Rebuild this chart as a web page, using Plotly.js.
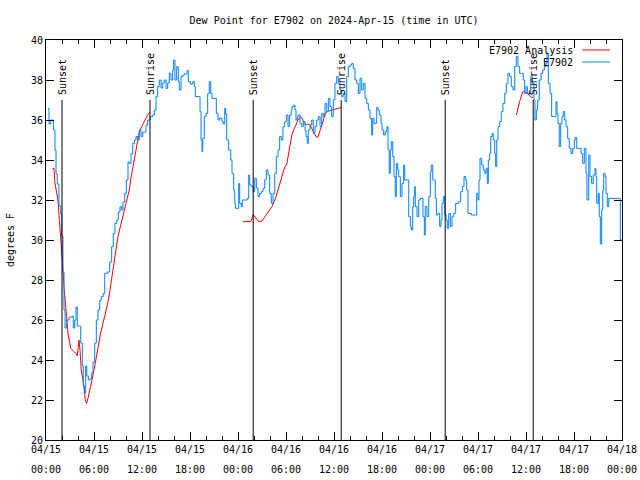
<!DOCTYPE html>
<html>
<head>
<meta charset="utf-8">
<script src="https://cdn.plot.ly/plotly-3.0.1.min.js"></script>
<style>html,body{margin:0;padding:0;background:#fff;}#chart{width:640px;height:480px;}</style>
</head>
<body>
<div id="chart"></div>
<script>
// Hours since 2024-04-15 00:00 UTC
var stationHours = [0.25,0.38,0.59,0.91,0.92,1.12,1.25,1.41,1.62,1.84,1.96,2.12,2.25,2.38,2.59,2.88,3.29,3.41,3.59,3.75,3.91,4.16,4.34,4.54,4.66,4.79,4.96,5.09,5.29,5.5,5.71,5.88,6.09,6.29,6.5,6.71,6.91,7.16,7.34,7.66,7.96,8.21,8.41,8.62,8.84,9.04,9.25,9.46,9.62,9.84,10.04,10.25,10.41,10.62,10.84,11.06,11.25,11.46,11.66,11.88,12.09,12.29,12.5,12.71,13.0,13.34,13.54,13.75,13.96,14.16,14.38,14.59,14.79,15.0,15.21,15.41,15.62,15.84,15.96,16.12,16.34,16.54,16.66,16.88,17.09,17.29,17.62,17.79,18.04,18.34,18.54,18.66,19.16,19.25,19.38,19.5,19.59,19.79,20.0,20.21,20.41,20.59,20.75,21.16,21.29,21.5,21.71,22.0,22.16,22.34,22.46,22.59,22.84,23.09,23.25,23.46,23.59,23.71,23.91,24.09,24.21,24.41,24.54,24.88,25.16,25.34,25.46,25.66,25.88,26.09,26.29,26.5,26.71,26.91,27.12,27.34,27.54,27.75,27.96,28.16,28.38,28.59,28.79,29.0,29.21,29.41,29.62,29.84,30.04,30.25,30.46,30.66,30.75,31.0,31.12,31.25,31.41,31.54,31.75,31.96,32.16,32.38,32.5,32.66,32.79,33.0,33.21,33.41,33.62,33.84,34.04,34.25,34.46,34.66,34.88,35.09,35.29,35.5,35.71,35.91,36.12,36.34,36.54,36.75,36.96,37.16,37.38,37.59,37.79,38.0,38.21,38.41,38.62,38.84,39.04,39.25,39.46,39.66,39.88,40.09,40.29,40.5,40.71,40.84,41.0,41.34,41.5,41.66,41.88,42.0,42.21,42.41,42.62,42.75,42.91,43.04,43.16,43.34,43.5,43.66,43.79,43.96,44.09,44.29,44.5,44.71,44.84,45.12,45.34,45.54,45.66,45.84,45.96,46.09,46.16,46.38,46.59,46.79,47.0,47.12,47.29,47.41,47.62,47.84,48.04,48.16,48.34,48.54,48.66,48.79,49.0,49.21,49.38,49.5,49.66,49.84,50.0,50.16,50.34,50.54,50.75,50.96,51.21,51.59,51.84,52.04,52.25,52.46,52.59,52.75,53.16,53.71,53.84,54.0,54.12,54.25,54.46,54.66,54.84,55.0,55.16,55.29,55.46,55.59,55.79,55.91,56.09,56.21,56.34,56.5,56.71,56.91,57.12,57.34,57.54,57.75,57.96,58.16,58.38,58.59,58.79,59.0,59.21,59.46,59.66,59.84,60.0,60.16,60.38,60.59,60.79,61.0,61.12,61.29,61.46,61.66,61.88,62.09,62.29,62.5,62.62,62.79,63.0,63.21,63.54,63.75,63.88,64.0,64.16,64.34,64.5,64.66,64.84,65.0,65.21,65.41,65.62,65.84,66.04,66.16,66.34,66.66,66.88,67.09,67.29,67.5,67.62,67.84,68.0,68.21,68.41,68.62,68.75,68.84,69.04,69.16,69.29,69.46,69.59,69.71,69.88,70.0,70.16,70.34,70.88,71.46,71.66,71.79,72.0];
var stationDew = [36.58,35.8,36.0,36.0,35.5,34.5,33.3,32.8,31.7,31.3,30.2,28.4,26.5,25.6,26.0,26.15,26.2,25.6,26.0,26.65,25.7,25.7,24.85,23.7,22.7,22.35,23.7,23.2,23.0,23.05,23.35,23.9,24.85,26.0,26.5,26.97,27.17,27.33,28.33,28.4,28.9,29.67,30.33,30.83,31.0,31.4,31.67,31.5,31.9,32.33,33.0,33.9,33.83,34.3,34.83,35.0,35.17,35.0,35.5,35.17,35.4,35.4,35.75,36.0,36.17,36.25,36.5,37.17,37.67,38.0,37.6,37.85,38.0,37.58,37.85,38.33,38.0,38.5,39.0,38.0,38.67,37.92,37.5,38.17,38.25,38.3,38.47,37.92,37.8,37.92,37.67,37.17,37.17,36.42,35.0,34.42,35.08,36.17,36.33,37.33,37.92,37.33,37.08,37.08,36.33,36.0,36.1,35.92,35.8,36.58,36.3,35.0,34.5,34.0,33.33,32.5,31.83,31.58,31.58,32.83,31.83,31.67,32.0,32.0,32.08,33.25,32.75,32.67,32.42,33.08,32.6,32.17,32.33,32.42,32.58,33.0,33.5,33.25,32.33,31.83,32.33,33.33,34.17,34.5,35.17,35.0,35.67,35.92,36.25,35.67,36.25,36.5,36.67,36.75,36.5,36.0,36.17,36.25,35.83,35.67,35.92,35.5,35.17,34.83,35.5,35.75,36.0,35.33,35.67,36.0,36.17,35.67,36.33,36.17,36.83,36.42,37.08,36.67,36.17,37.0,37.83,38.17,37.83,37.5,37.17,37.33,36.92,38.17,38.67,38.75,38.83,38.58,38.0,37.83,37.33,38.08,37.5,37.83,37.08,36.83,36.5,36.08,35.25,36.08,35.83,36.63,36.5,36.25,35.83,35.5,35.25,35.42,35.67,34.5,33.33,34.5,34.92,34.17,33.17,32.17,33.83,33.5,33.17,32.17,32.83,33.75,33.0,33.0,31.17,30.67,30.5,31.67,32.17,32.67,31.67,31.17,32.0,32.08,32.08,31.17,30.25,31.67,31.17,32.17,33.42,33.75,33.0,33.0,32.08,31.25,31.33,30.67,31.0,31.83,32.17,31.25,31.0,30.58,31.33,30.67,31.17,31.33,31.83,31.92,32.42,32.67,33.17,33.0,32.5,31.33,31.25,31.25,32.33,32.0,33.0,34.08,33.75,33.5,33.33,33.58,32.83,34.0,34.33,35.17,35.33,35.0,34.33,33.67,35.0,35.67,35.92,36.42,36.83,37.33,37.83,38.33,38.17,37.67,37.5,38.67,39.17,38.67,38.33,38.33,38.0,37.33,37.67,37.33,37.33,38.17,37.83,37.0,36.0,36.5,37.0,38.0,38.33,38.5,38.67,38.83,39.33,37.83,37.33,36.17,36.17,36.92,36.33,35.83,34.67,35.83,36.17,36.42,36.0,35.67,35.08,34.58,34.33,34.58,35.0,35.13,34.58,34.58,34.33,33.83,34.58,33.33,32.0,34.25,33.17,32.83,33.25,33.58,33.17,31.83,32.33,31.17,29.8,31.5,32.5,33.33,33.17,32.33,31.67,32.08,32.08,32.08,32.08,30.0,30.0];

var analysisHours = [0.79,1.0,1.12,1.34,1.5,1.67,1.84,2.04,2.25,2.38,2.54,2.75,3.09,3.5,3.79,3.91,4.12,4.25,4.41,4.62,4.75,4.91,5.09,5.25,5.5,5.75,6.0,6.25,6.5,6.75,7.0,7.25,7.5,7.75,8.0,8.25,8.5,8.75,9.0,9.25,9.5,9.75,10.0,10.25,10.41,10.62,10.84,11.0,11.25,11.46,11.66,11.88,12.09,12.29,12.5,12.71,12.91,13.0,null,24.6,24.9,25.6,25.9,26.2,26.6,27.0,27.4,27.9,28.3,28.7,29.0,29.3,29.6,29.8,30.1,30.3,30.5,30.7,30.9,31.1,31.3,31.5,31.8,32.0,32.2,32.5,32.7,33.0,33.2,33.4,33.6,33.8,34.0,34.3,34.6,34.9,35.3,35.7,36.1,36.5,36.9,null,58.8,59.2,59.6,60.0,60.25,60.66,60.9];
var analysisDew = [33.58,33.58,32.83,32.4,32.0,31.0,29.83,29.0,27.67,27.08,26.33,25.33,24.58,24.42,24.3,24.2,25.0,24.5,23.5,23.0,22.67,22.0,21.83,22.1,22.5,23.0,23.5,24.0,24.6,25.2,25.6,26.1,26.5,26.9,27.5,28.2,28.9,29.6,30.2,30.6,31.0,31.4,31.8,32.2,32.5,33.1,33.6,34.1,34.6,35.0,35.4,35.6,35.8,35.95,36.1,36.25,36.35,36.4,null,30.92,30.92,30.92,31.27,31.1,30.92,30.95,31.2,31.45,31.7,32.1,32.5,32.9,33.35,33.6,33.8,34.3,34.75,35.2,35.45,35.6,35.8,36.0,36.17,36.1,35.9,35.75,35.8,35.75,35.58,35.4,35.25,35.13,35.15,35.5,35.9,36.35,36.45,36.5,36.55,36.6,36.62,null,36.25,36.92,37.42,37.35,37.3,37.13,37.13];

var eventHours = [2.0, 13.0, 25.9, 36.9, 49.9, 60.9];
var eventLabels = ["Sunset","Sunrise","Sunset","Sunrise","Sunset","Sunrise"];

var tickHours = [0,6,12,18,24,30,36,42,48,54,60,66,72];
var tickDates = ["04/15","04/15","04/15","04/15","04/16","04/16","04/16","04/16","04/17","04/17","04/17","04/17","04/18"];
var tickTimes = ["00:00","06:00","12:00","18:00","00:00","06:00","12:00","18:00","00:00","06:00","12:00","18:00","00:00"];

var seriesNames = ["E7902 Analysis", "E7902"];
var seriesColors = ["#ff0000", "#0080ff"];

var FONT = {family: "DejaVu Sans Mono, monospace", size: 10, color: "#000"};

var traces = [
  {x: analysisHours, y: analysisDew, type: "scatter", mode: "lines", name: seriesNames[0],
   line: {color: seriesColors[0], width: 1}, connectgaps: false, hoverinfo: "x+y"},
  {x: stationHours, y: stationDew, type: "scatter", mode: "lines", name: seriesNames[1],
   line: {color: seriesColors[1], width: 1, shape: "hv"}, hoverinfo: "x+y"}
];

var shapes = [];
var annotations = [];
for (var i = 0; i < eventHours.length; i++) {
  shapes.push({type: "line", xref: "x", yref: "y", x0: eventHours[i], x1: eventHours[i], y0: 20, y1: 37,
               line: {color: "#000", width: 1}});
  annotations.push({xref: "x", yref: "y", x: eventHours[i], y: 37.15, text: eventLabels[i],
                    textangle: -90, showarrow: false, xanchor: "center", yanchor: "bottom",
                    font: FONT});
}
// second line of the time-axis labels
for (var t = 0; t < tickHours.length; t++) {
  annotations.push({xref: "x", yref: "paper", x: tickHours[t], y: 0, yshift: -29, text: tickTimes[t],
                    showarrow: false, xanchor: "center", yanchor: "middle", font: FONT});
}
// legend (gnuplot style: text right-aligned, sample line to the right)
var legendY = [0.975, 0.945];
for (var k = 0; k < seriesNames.length; k++) {
  annotations.push({xref: "paper", yref: "paper", x: 0.918, y: legendY[k], text: seriesNames[k],
                    showarrow: false, xanchor: "right", yanchor: "middle", font: FONT});
  shapes.push({type: "line", xref: "paper", yref: "paper", x0: 0.931, x1: 0.979, y0: legendY[k], y1: legendY[k],
               line: {color: seriesColors[k], width: 1}});
}

var layout = {
  width: 640, height: 480,
  margin: {l: 46, r: 18, t: 40, b: 40},
  paper_bgcolor: "#fff", plot_bgcolor: "#fff",
  font: FONT,
  showlegend: false,
  title: {text: "Dew Point for E7902 on 2024-Apr-15 (time in UTC)", font: FONT, x: 0.522, xanchor: "center", y: 0.958, yanchor: "middle"},
  xaxis: {range: [0, 72], tickmode: "array", tickvals: tickHours, ticktext: tickDates,
          ticks: "inside", ticklen: 8, tickcolor: "#000", showline: true, linecolor: "#000", linewidth: 1,
          mirror: "ticks", showgrid: false, zeroline: false, tickfont: FONT,
          minor: {dtick: 2, tick0: 0, ticks: "inside", ticklen: 4, tickcolor: "#000", showgrid: false}},
  yaxis: {range: [20, 40], dtick: 2, tick0: 20, ticks: "inside", ticklen: 8, tickcolor: "#000",
          showline: true, linecolor: "#000", linewidth: 1, mirror: "ticks", showgrid: false, zeroline: false,
          tickfont: FONT, title: {text: "degrees F", font: FONT, standoff: 14}},
  shapes: shapes,
  annotations: annotations
};

Plotly.newPlot("chart", traces, layout, {displayModeBar: false, staticPlot: true});
</script>
</body>
</html>
